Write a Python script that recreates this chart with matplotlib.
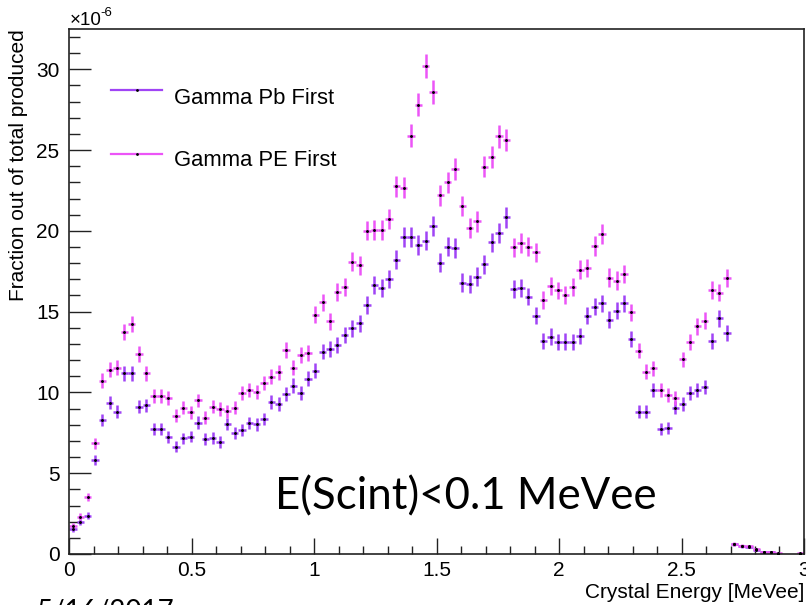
import numpy as np
import matplotlib
matplotlib.use("Agg")
import matplotlib.pyplot as plt
from matplotlib.ticker import MultipleLocator
from matplotlib.lines import Line2D

# ---- data (units of 1e-6), 100 bins of 0.03 MeVee from 0 to 3 ----
n_bins = 100
bin_width = 0.03

gamma_pe_first = [
    1.73, 2.31, 3.51, 6.85, 10.73, 11.39, 11.54, 13.73, 14.24, 12.38,
    11.19, 9.78, 9.78, 9.64, 8.57, 9.05, 8.77, 9.50, 8.44, 9.12,
    8.98, 8.83, 9.06, 9.95, 10.15, 10.03, 10.57, 10.98, 11.25, 12.63,
    11.54, 12.30, 12.45, 14.80, 15.58, 14.39, 16.24, 16.51, 18.08, 17.87,
    20.02, 20.06, 20.06, 20.74, 22.75, 22.68, 25.90, 27.80, 30.20, 28.60,
    22.20, 23.00, 23.82, 21.55, 20.20, 20.58, 23.98, 24.56, 25.84, 25.63,
    18.99, 19.24, 19.03, 18.66, 15.73, 16.59, 16.31, 16.04, 16.55, 17.59,
    17.69, 19.07, 19.81, 17.11, 16.92, 17.32, 14.96, 12.59, 11.29, 11.50,
    10.13, 9.85, 9.64, 12.05, 13.09, 14.08, 14.45, 16.35, 16.18, 17.07,
    0.62, 0.50, 0.48, 0.28, 0.14, 0.12, 0.04, 0.0, 0.0, 0.04,
]

gamma_pb_first = [
    1.53, 2.00, 2.37, 5.82, 8.30, 9.37, 8.81, 11.19, 11.19, 9.12,
    9.20, 7.72, 7.72, 7.22, 6.65, 7.15, 7.27, 8.13, 7.12, 7.18,
    6.93, 8.05, 7.47, 7.68, 8.11, 8.03, 8.36, 9.41, 9.29, 9.91,
    10.42, 9.95, 10.85, 11.35, 12.53, 12.69, 12.94, 13.56, 13.97, 14.28,
    15.42, 16.66, 16.45, 17.03, 18.20, 19.60, 19.60, 19.13, 19.40, 20.30,
    18.04, 19.03, 18.93, 16.80, 16.72, 17.17, 17.92, 19.28, 19.86, 20.83,
    16.39, 16.45, 15.93, 14.74, 13.21, 13.46, 13.09, 13.15, 13.09, 13.50,
    14.76, 15.31, 15.52, 14.49, 15.05, 15.52, 13.29, 8.81, 8.81, 10.15,
    7.74, 7.80, 9.05, 9.27, 9.95, 10.15, 10.32, 13.21, 14.59, 13.66,
    0.60, 0.48, 0.45, 0.25, 0.12, 0.10, 0.03, 0.0, 0.0, 0.03,
]

series_labels = ["Gamma Pb First", "Gamma PE First"]
x_title = "Crystal Energy [MeVee]"
y_title = "Fraction out of total produced"
cut_text = "E(Scint)<0.1 MeVee"
date_text = "5/16/2017"

# ---- styling ----
col_pb = "#a044f5"
col_pe = "#ec55f7"
plt.rcParams["font.family"] = ["Liberation Sans", "DejaVu Sans"]

fig = plt.figure(figsize=(8.06, 6.05), dpi=100)
ax = fig.add_axes([0.086, 0.0843, 0.9115, 0.868])

centers = (np.arange(n_bins) + 0.5) * bin_width

def draw(vals, color):
    v = np.asarray(vals, dtype=float)
    m = v > 0
    err = 0.137 * np.sqrt(v[m])  # statistical error bar size
    ax.errorbar(centers[m], v[m], yerr=err, xerr=bin_width / 2, fmt="none",
                ecolor=color, elinewidth=1.8, capsize=0, zorder=2)
    ax.plot(centers[m], v[m], linestyle="none", marker="o", markersize=1.1,
            color="black", zorder=3)

draw(gamma_pb_first, col_pb)
draw(gamma_pe_first, col_pe)

ax.set_xlim(0, 3)
ax.set_ylim(0, 32.5)

ax.xaxis.set_major_locator(MultipleLocator(0.5))
ax.xaxis.set_minor_locator(MultipleLocator(0.1))
ax.yaxis.set_major_locator(MultipleLocator(5))
ax.yaxis.set_minor_locator(MultipleLocator(1))

ax.tick_params(axis="both", which="both", direction="in", top=False, right=False,
               width=1.0, color="#222222", labelsize=15)
ax.tick_params(axis="x", which="major", length=11.5, pad=5)
ax.tick_params(axis="x", which="minor", length=6)
ax.tick_params(axis="y", which="major", length=16, pad=7)
ax.tick_params(axis="y", which="minor", length=8)

def xfmt(v, pos):
    return "%g" % v
ax.xaxis.set_major_formatter(plt.FuncFormatter(xfmt))
ax.yaxis.set_major_formatter(plt.FuncFormatter(xfmt))

for s in ax.spines.values():
    s.set_linewidth(1.2)
    s.set_color("#222222")

ax.set_xlabel(x_title, fontsize=15, loc="right", labelpad=2)
ax.set_ylabel(y_title, fontsize=15, loc="top", labelpad=6)

# exponent label
fig.text(0.087, 1 - 25 / 605, "\u00d710", fontsize=13.5, ha="left", va="baseline")
fig.text(0.125, 1 - 16 / 605, "-6", fontsize=9.5, ha="left", va="baseline")

# legend (drawn manually to mimic ROOT legend)
for yl, yt, c, lab in [(90, 98, col_pb, series_labels[0]),
                       (154, 161, col_pe, series_labels[1])]:
    fig.add_artist(Line2D([111 / 806, 162 / 806], [1 - yl / 605, 1 - yl / 605],
                          color=c, lw=1.6, transform=fig.transFigure))
    fig.add_artist(Line2D([136.5 / 806], [1 - yl / 605], marker="o", markersize=1.0,
                          color="black", transform=fig.transFigure))
    fig.text(174 / 806, 1 - yt / 605, lab, fontsize=15.8, ha="left", va="center")

# annotation text
fig.text(275 / 806, 1 - 497 / 605, cut_text, fontsize=31.5, ha="left", va="center",
         family=["Lato", "DejaVu Sans"])
fig.text(36 / 806, 1 - 599 / 605, date_text, fontsize=20, ha="left", va="top",
         family=["Lato", "DejaVu Sans"])

fig.savefig("out.png", dpi=100)
